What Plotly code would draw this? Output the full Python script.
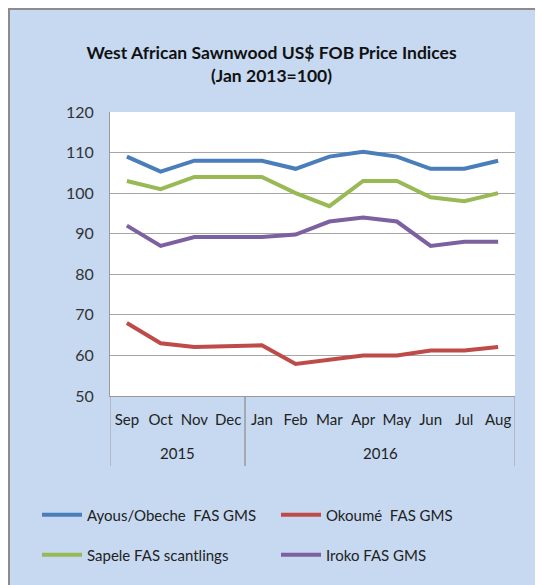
import plotly.graph_objects as go

years = ["2015"] * 4 + ["2016"] * 8
months = ["Sep", "Oct", "Nov", "Dec", "Jan", "Feb", "Mar", "Apr", "May", "Jun", "Jul", "Aug"]

ayous = [109, 105.3, 108, 108, 108, 106, 109, 110.2, 109, 106, 106, 108]
okoume = [68, 63, 62.1, 62.4, 62.5, 57.9, 58.9, 60, 60, 61.2, 61.2, 62.1]
sapele = [103, 101, 104, 104, 104, 100, 96.8, 103, 103, 99, 98, 100]
iroko = [92, 87, 89.2, 89.2, 89.2, 89.8, 93, 94, 93, 87, 88, 88]

series = [
    ("Ayous/Obeche  FAS GMS", ayous, "#4A7EBB", "legend"),
    ("Okoumé  FAS GMS", okoume, "#BE4B48", "legend"),
    ("Sapele FAS scantlings", sapele, "#98B954", "legend2"),
    ("Iroko FAS GMS", iroko, "#7D60A0", "legend2"),
]

FONT = "Lato"
OFF = 8  # page body margin
W, H = 535, 577
ML, MR, MT, MB = 102, 28, 104, 189
PW, PH = W - ML - MR, H - MT - MB

fig = go.Figure()
for name, vals, color, lg in series:
    fig.add_trace(go.Scatter(
        x=months, y=vals, name=name, mode="lines",
        line=dict(color=color, width=4), legend=lg,
    ))

def px_x(p):  # screen px -> paper x
    return (p - OFF - ML) / PW

def px_y(p):  # screen px -> paper y
    return (H - MB - (p - OFF)) / PH

blue = "#C6D9F1"
gray = "#9A9A9A"

# year groups: centres and boundaries derived from the years list
groups = []
for i, yv in enumerate(years):
    if not groups or groups[-1][0] != yv:
        groups.append([yv, i, i])
    else:
        groups[-1][2] = i

annotations = []
shapes = []
for yv, i0, i1 in groups:
    annotations.append(dict(
        x=(i0 + i1) / 2, xref="x", y=px_y(453), yref="paper", text=yv,
        showarrow=False, xanchor="center", yanchor="middle",
        font=dict(family=FONT, size=15, color="#222222"),
    ))
    for b in (i0 - 0.5, i1 + 0.5):
        shapes.append(dict(type="line", xref="x", yref="paper", x0=b, x1=b,
                           y0=0, y1=px_y(466), line=dict(color=gray, width=1)))

shapes += [
    dict(type="line", xref="paper", yref="paper", x0=px_x(9), x1=px_x(9),
         y0=px_y(8), y1=px_y(700), line=dict(color="#8C8C8C", width=2)),
    dict(type="line", xref="paper", yref="paper", x0=px_x(8), x1=px_x(700),
         y0=px_y(9), y1=px_y(9), line=dict(color="#8C8C8C", width=2)),
]

fig.update_layout(
    width=W, height=H,
    margin=dict(l=ML, r=MR, t=MT, b=MB, autoexpand=False),
    paper_bgcolor=blue, plot_bgcolor="white",
    font=dict(family=FONT, color="#222222"),
    title=dict(
        text="<b>West African Sawnwood US$ FOB Price Indices<br>(Jan 2013=100)</b>",
        x=(271.5 - OFF) / W, xref="container", xanchor="center",
        y=1 - 51 / H, yref="container", yanchor="top",
        font=dict(family=FONT, size=17.5, color="#111111"),
    ),
    xaxis=dict(
        type="category", range=[-0.5, 11.5], showgrid=False, showline=True,
        linecolor=gray, linewidth=1,
        tickfont=dict(size=15, color="#222222"), ticks="", tickangle=0,
        ticklabelstandoff=10,
    ),
    yaxis=dict(
        range=[50, 120], dtick=10, showgrid=True, gridcolor="#A6A6A6", gridwidth=1,
        showline=True, linecolor=gray, linewidth=1, zeroline=False,
        tickfont=dict(size=16, color="#333333"), ticklabelstandoff=12,
    ),
    legend=dict(
        orientation="h", x=px_x(37), xanchor="left", y=px_y(515), yanchor="middle",
        font=dict(size=15, color="#222222"), entrywidth=184, itemwidth=40,
        bgcolor="rgba(0,0,0,0)",
    ),
    legend2=dict(
        orientation="h", x=px_x(37), xanchor="left", y=px_y(555), yanchor="middle",
        font=dict(size=15, color="#222222"), entrywidth=184, itemwidth=40,
        bgcolor="rgba(0,0,0,0)",
    ),
    shapes=shapes,
    annotations=annotations,
    showlegend=True,
)

fig.write_html("out.html")
